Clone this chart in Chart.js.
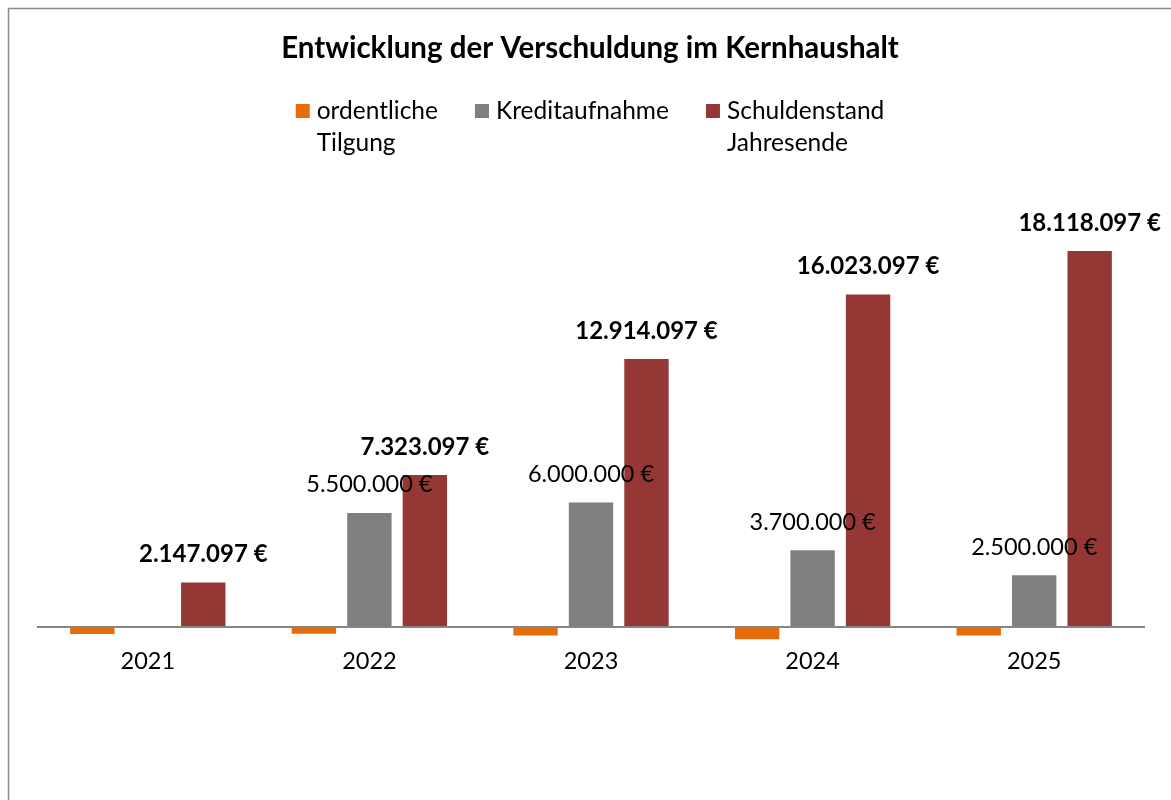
<!DOCTYPE html>
<html lang="de">
<head>
<meta charset="utf-8">
<title>Entwicklung der Verschuldung im Kernhaushalt</title>
<script src="https://cdn.jsdelivr.net/npm/chart.js@4.4.1/dist/chart.umd.min.js"></script>
<style>
  html, body { margin: 0; padding: 0; background: #fff; }
  canvas { display: block; }
</style>
</head>
<body>
<canvas id="debtChart" width="1171" height="800"></canvas>
<script>
const years = ['2021', '2022', '2023', '2024', '2025'];
const seriesNames = ['ordentliche\nTilgung', 'Kreditaufnahme', 'Schuldenstand\nJahresende'];
const tilgung = [-330000, -324000, -409000, -591000, -405000];
const kreditaufnahme = [0, 5500000, 6000000, 3700000, 2500000];
const schuldenstand = [2147097, 7323097, 12914097, 16023097, 18118097];
const colors = ['#E46C0A', '#7F7F7F', '#953735'];

const FONT = 'Lato, "Open Sans", sans-serif';

function euro(v) {
    return String(v).replace(/\B(?=(\d{3})+(?!\d))/g, '.') + ' €';
}

// frame around the chart, only left/top edge is visible in the picture
const framePlugin = {
    id: 'frame',
    beforeDraw(chart) {
        const ctx = chart.ctx;
        ctx.save();
        ctx.strokeStyle = '#8a8a8a';
        ctx.lineWidth = 1.5;
        ctx.strokeRect(8.5, 8.5, chart.width + 50, chart.height + 50);
        ctx.restore();
    }
};

// value labels above the bars (Kreditaufnahme + Schuldenstand only)
const valueLabels = {
    id: 'valueLabels',
    afterDatasetsDraw(chart) {
        const ctx = chart.ctx;
        ctx.save();
        ctx.textAlign = 'center';
        ctx.textBaseline = 'middle';
        ctx.fillStyle = '#000';
        [1, 2].forEach(i => {
            const meta = chart.getDatasetMeta(i);
            ctx.font = (i === 2 ? 'bold 24px ' : '23.5px ') + FONT;
            meta.data.forEach((bar, j) => {
                const v = chart.data.datasets[i].data[j];
                if (!v) return;
                ctx.fillText(euro(v), bar.x, bar.y - 28);
            });
        });
        ctx.restore();
    }
};

// title and Excel-like legend with wrapped entries
const headerPlugin = {
    id: 'header',
    afterDraw(chart) {
        const ctx = chart.ctx;
        const cx = 590;
        ctx.save();
        ctx.fillStyle = '#000';
        ctx.textBaseline = 'middle';
        ctx.textAlign = 'center';
        ctx.font = 'bold 29.5px ' + FONT;
        ctx.fillText('Entwicklung der Verschuldung im Kernhaushalt', cx, 48);

        ctx.font = '24.5px ' + FONT;
        ctx.textAlign = 'left';
        const box = 14, gapBox = 7, gapItem = 37;
        const items = chart.data.datasets.map(ds => {
            const lines = ds.label.split('\n');
            const w = Math.max(...lines.map(l => ctx.measureText(l).width));
            return { lines, w, color: ds.backgroundColor };
        });
        const total = items.reduce((s, it) => s + box + gapBox + it.w, 0) + gapItem * (items.length - 1);
        let x = cx - total / 2;
        items.forEach(it => {
            ctx.fillStyle = it.color;
            ctx.fillRect(x, 104, box, box);
            ctx.fillStyle = '#000';
            it.lines.forEach((l, k) => ctx.fillText(l, x + box + gapBox, 111 + k * 32));
            x += box + gapBox + it.w + gapItem;
        });
        ctx.restore();
    }
};

new Chart(document.getElementById('debtChart'), {
    type: 'bar',
    data: {
        labels: years,
        datasets: [
            { label: seriesNames[0], data: tilgung, backgroundColor: colors[0] },
            { label: seriesNames[1], data: kreditaufnahme, backgroundColor: colors[1] },
            { label: seriesNames[2], data: schuldenstand, backgroundColor: colors[2] }
        ]
    },
    options: {
        responsive: false,
        animation: false,
        devicePixelRatio: 1,
        categoryPercentage: 0.751,
        barPercentage: 0.8,
        layout: { padding: { top: 212, left: 37, right: 26, bottom: 124 } },
        plugins: {
            legend: { display: false },
            title: { display: false },
            tooltip: { enabled: false }
        },
        scales: {
            x: {
                grid: { display: false, drawTicks: false },
                border: { display: false },
                ticks: { color: '#000', font: { family: FONT, size: 23.5 }, padding: 0 }
            },
            y: {
                min: -1000000,
                max: 20000000,
                border: { display: false },
                ticks: { display: false, stepSize: 1000000 },
                grid: {
                    drawTicks: false,
                    color: c => c.tick && c.tick.value === 0 ? '#868686' : 'rgba(0,0,0,0)',
                    lineWidth: c => c.tick && c.tick.value === 0 ? 2 : 0
                }
            }
        }
    },
    plugins: [framePlugin, valueLabels, headerPlugin]
});
</script>
</body>
</html>
